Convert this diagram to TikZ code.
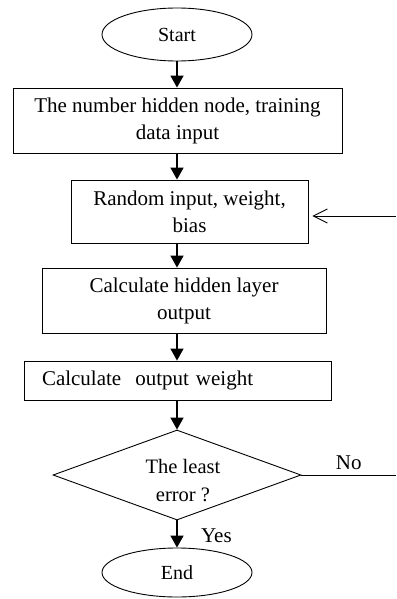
\documentclass[tikz,border=0pt]{standalone}
\usepackage{fontspec}
\setmainfont{Liberation Serif}
\usetikzlibrary{arrows.meta, positioning, shapes.geometric}

\begin{document}
\begin{tikzpicture}[x=1pt, y=-1pt, line width=0.9pt,
    font=\fontsize{21}{27}\selectfont,
    term/.style={draw, ellipse, inner sep=0pt, minimum width=150pt,
                 font=\fontsize{20}{24}\selectfont},
    procbox/.style={draw, rectangle, inner sep=0pt, align=center},
    decision/.style={draw, diamond, aspect=2.75, inner sep=0pt,
                     minimum width=248pt, minimum height=90pt},
    flowarrow/.style={-{Triangle[length=12pt, width=13pt]}, line width=1.6pt}]
  \useasboundingbox (0,0) rectangle (396,599);
  \coordinate (spine) at (177,0);

  % terminals and process boxes
  \node[term, minimum height=53pt] (start) at (177,34.5) {Start};
  \node[procbox, minimum width=329pt, minimum height=65pt] (init) at (177.5,120.5)
    {The number hidden node, training\\data input};
  \node[procbox, minimum width=237pt, minimum height=63pt] (random) at (189.5,211.5)
    {Random input, weight,\\bias};
  \node[procbox, minimum width=284pt, minimum height=65pt] (hidden) at (184,300.5)
    {Calculate hidden layer\\output};
  \node[procbox, inner xsep=18pt, text width=271pt, align=left,
        minimum height=39pt] (outw) at (177.5,380.5)
    {Calculate \ output weight};
  \node[decision, label={[align=center, xshift=6pt, yshift=-6pt,
        font=\fontsize{20.5}{28}\selectfont]center:{The least\\error ?}}]
    (check) at (177,475) {};
  \node[term, minimum height=49pt] (end) at (177,572.5) {End};

  % main flow
  \draw[flowarrow] (start.south -| spine) -- (init.north -| spine);
  \draw[flowarrow] (init.south -| spine) -- (random.north -| spine);
  \draw[flowarrow] (random.south -| spine) -- (hidden.north -| spine);
  \draw[flowarrow] (hidden.south -| spine) -- (outw.north -| spine);
  \draw[flowarrow] (outw.south -| spine) -- (check.north);
  \draw[flowarrow] (check.south) -- (end.north)
    node[pos=0.55, right=20pt, font=\fontsize{21}{24}\selectfont] (yes) {Yes};

  % "No" branch, back into the random box
  \coordinate (noend) at (396,475);
  \coordinate (back) at (396,216);
  \draw (check.east) -- (noend)
    node[pos=0.5, above=2pt, font=\fontsize{21}{24}\selectfont] (no) {No};
  \draw[-{Straight Barb[length=14pt, width=14pt]}, shorten >=4pt]
    (back) -- (back -| random.east);
\end{tikzpicture}
\end{document}
